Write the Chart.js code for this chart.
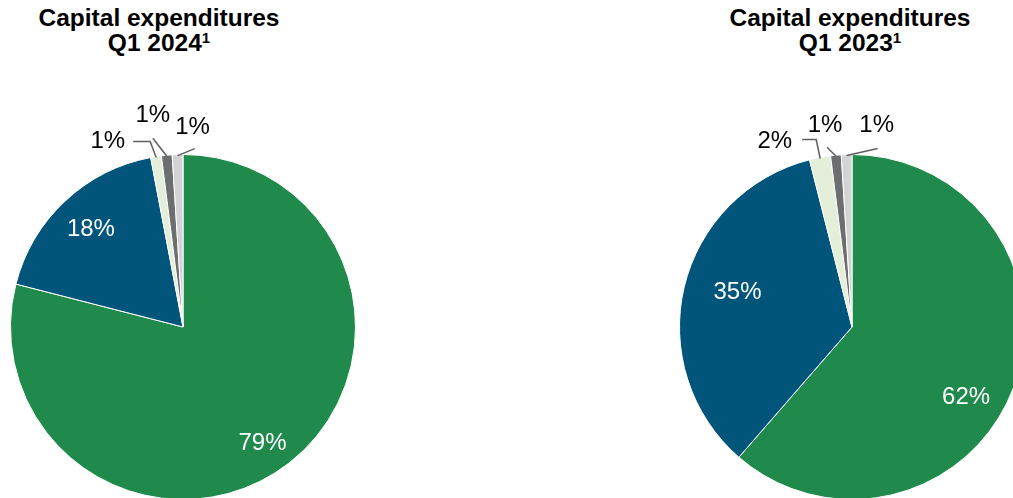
<!DOCTYPE html>
<html>
<head>
<meta charset="utf-8">
<script src="https://cdn.jsdelivr.net/npm/chart.js@4.4.1/dist/chart.umd.min.js"></script>
<style>
  html, body { margin: 0; padding: 0; background: #fff; }
  body { width: 1013px; height: 498px; overflow: hidden; position: relative; font-family: "Liberation Sans", Arial, sans-serif; }
  .title { position: absolute; top: 5px; width: 320px; text-align: center; font-weight: bold; font-size: 24.5px; line-height: 25px; color: #000; }
  .title sup { font-size: 15px; line-height: 0; vertical-align: 8px; }
  canvas { position: absolute; top: 0; }
</style>
</head>
<body>
<div class="title" style="left:-1px">Capital expenditures<br>Q1 2024<sup>1</sup></div>
<div class="title" style="left:690px">Capital expenditures<br>Q1 2023<sup>1</sup></div>
<canvas id="pie2024" style="left:0px"></canvas>
<canvas id="pie2023" style="left:506px"></canvas>
<script>
// slice order, clockwise from 12 o'clock
const categories = ['Segment 1', 'Segment 2', 'Segment 3', 'Segment 4', 'Segment 5'];
const capex2024 = [79, 18, 1, 1, 1];
const capex2023 = [62, 35, 2, 1, 1];
const sliceColors = ['#1f8a4b', '#02557a', '#e3efd9', '#6d6e70', '#d1d3d4'];

// percent labels: big slices inside in white, small ones with leader lines
const pieLabels = {
  id: 'pieLabels',
  afterDatasetsDraw(chart, args, opts) {
    const ctx = chart.ctx;
    const meta = chart.getDatasetMeta(0);
    const values = chart.data.datasets[0].data;
    ctx.save();
    ctx.font = '24px "Liberation Sans", Arial, sans-serif';
    ctx.textBaseline = 'middle';
    meta.data.forEach((arc, i) => {
      const p = arc.getProps(['x', 'y', 'startAngle', 'endAngle', 'outerRadius'], true);
      const mid = (p.startAngle + p.endAngle) / 2;
      const text = values[i] + '%';
      const co = opts.callouts[i];
      if (!co) {
        const sh = (opts.shift && opts.shift[i]) || [0, 0];
        const r = p.outerRadius * opts.inside;
        ctx.fillStyle = '#ffffff';
        ctx.textAlign = 'center';
        ctx.fillText(text, p.x + Math.cos(mid) * r + sh[0], p.y + Math.sin(mid) * r + sh[1]);
      } else {
        const ax = p.x + Math.cos(mid) * (p.outerRadius - 1);
        const ay = p.y + Math.sin(mid) * (p.outerRadius - 1);
        ctx.strokeStyle = '#5f5f5f';
        ctx.lineWidth = 1.5;
        ctx.beginPath();
        ctx.moveTo(ax, ay);
        co.path.forEach(pt => ctx.lineTo(ax + pt[0], ay + pt[1]));
        ctx.stroke();
        ctx.fillStyle = '#000000';
        ctx.textAlign = co.align;
        ctx.fillText(text, ax + co.text[0], ay + co.text[1]);
      }
    });
    ctx.restore();
  }
};

function makePie(id, values, width, padding, labelOpts) {
  const canvas = document.getElementById(id);
  canvas.width = width;
  canvas.height = 700;
  canvas.style.width = width + 'px';
  canvas.style.height = '700px';
  return new Chart(canvas.getContext('2d'), {
    type: 'pie',
    data: {
      labels: categories,
      datasets: [{
        data: values,
        backgroundColor: sliceColors,
        borderColor: '#ffffff',
        borderWidth: 1
      }]
    },
    options: {
      responsive: false,
      animation: false,
      layout: { padding: padding },
      plugins: {
        legend: { display: false },
        tooltip: { enabled: false },
        pieLabels: labelOpts
      }
    },
    plugins: [pieLabels]
  });
}

makePie('pie2024', capex2024, 506, { left: 10, top: 154, right: 150, bottom: 200 }, {
  inside: 0.78,
  shift: { 0: [-3, 10] },
  callouts: {
    2: { path: [[-6, -16], [-23, -16]], text: [-31, -16], align: 'right' },
    3: { path: [[-14, -18]], text: [-14, -41], align: 'center' },
    4: { path: [[17, -7]], text: [15, -28], align: 'center' }
  }
});

makePie('pie2023', capex2023, 620, { left: 173, top: 154, right: 101, bottom: 200 }, {
  inside: 0.7,
  shift: { 0: [1, 28], 1: [3, -7] },
  callouts: {
    2: { path: [[-4, -19], [-18, -19]], text: [-28, -17], align: 'right' },
    3: { path: [[-9, -9]], text: [-11, -31], align: 'center' },
    4: { path: [[31, -7]], text: [30, -30], align: 'center' }
  }
});
</script>
</body>
</html>
